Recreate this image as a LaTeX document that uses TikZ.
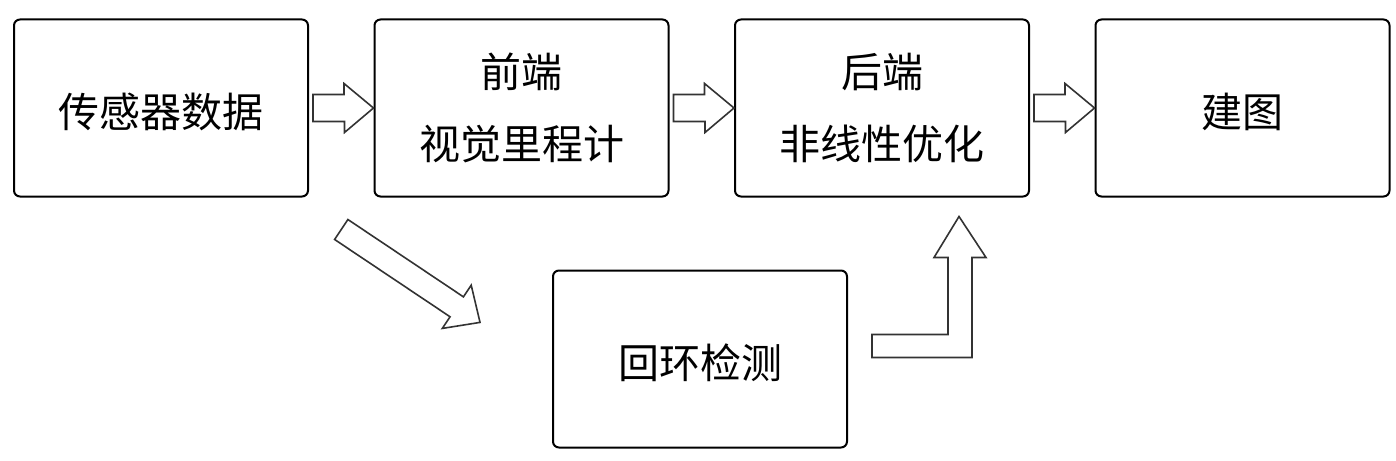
\documentclass[tikz,border=0pt]{standalone}
\usepackage{fontspec}
\newfontfamily\cjk{Noto Sans CJK SC}
\usetikzlibrary{positioning,calc}

\tikzset{
  block/.style={draw, line width=2pt, rounded corners=6pt, minimum width=294pt,
    minimum height=177pt, align=center, font=\cjk\fontsize{41}{72}\selectfont},
  oneline/.style={text height=44pt, text depth=5pt},
  fat/.style={draw=black!80, line width=1.6pt, line join=miter, fill=white},
}

\begin{document}
\begin{tikzpicture}[x=1pt,y=-1pt]
  \useasboundingbox (0,0) rectangle (1396,460);

  \node[block, oneline] (sensor) at (161,108) {传感器数据};
  \node[block, right=64.5pt of sensor] (frontend) {前端\\视觉里程计};
  \node[block, right=64.5pt of frontend] (backend) {后端\\非线性优化};
  \node[block, oneline, right=64.5pt of backend] (mapping) {建图};
  \node[block, oneline] (loop) at (700,359) {回环检测};

  % block arrows along the top row
  \foreach \a/\b in {sensor/frontend, frontend/backend, backend/mapping}
    \draw[fat] ($(\a.east)+(4,-13.5)$) -- ++(31,0) -- ++(0,-11) -- (\b.west)
      -- ($(\b.west)+(-29,24.5)$) -- ++(0,-11) -- ($(\a.east)+(4,13.5)$) -- cycle;

  % down to loop closure
  \coordinate (dtail) at ($(sensor.south east)!0.5!(frontend.south west)+(0,32)$);
  \draw[fat, shift={(dtail)}, rotate=-33.8] (0,-12) -- (139,-12) -- (139,-26)
    -- (167,0) -- (139,26) -- (139,12) -- (0,12) -- cycle;

  % back up to the back end
  \coordinate (ltail) at ($(loop.east)+(24,-13)$);
  \draw[fat] ($(ltail)+(0,-11.5)$) -- ++(76,0) -- ++(0,-77) -- ++(-14,0)
    -- ++(25,-41) -- ++(27,41) -- ++(-14,0) -- ++(0,100) -- ++(-100,0) -- cycle;
\end{tikzpicture}
\end{document}
